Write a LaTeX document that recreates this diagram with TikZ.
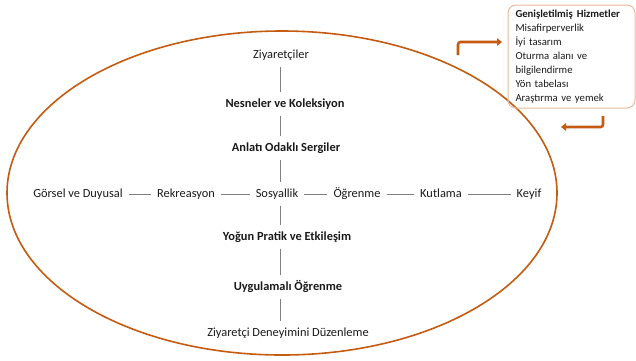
\documentclass[tikz,border=0pt]{standalone}
\usepackage{fontspec}
\setmainfont{Carlito}
\usetikzlibrary{arrows.meta}
\definecolor{rimOrange}{HTML}{C55A11}
\definecolor{boxPeach}{HTML}{E8B99C}
\definecolor{linkGray}{HTML}{7F7F7F}
\definecolor{labelInk}{HTML}{1A1A1A}

\begin{document}
\begin{tikzpicture}[x=1pt,y=-1pt,font=\fontsize{12.4}{14}\selectfont,
  lbl/.style={text=labelInk,inner sep=2pt,text height=9pt,text depth=3pt},
  key/.style={lbl,font=\fontsize{12.4}{14}\selectfont\bfseries},
  link/.style={draw=linkGray,line width=0.6pt,shorten >=4pt,shorten <=4pt},
  elbow/.style={draw=rimOrange,line width=2.6pt,rounded corners=2.5pt,
                -{Triangle[length=5pt,width=7.5pt]}}]
  \useasboundingbox (0,0) rectangle (636,360);
  \draw[rimOrange,line width=1.6pt] (282,193) ellipse [x radius=275, y radius=162];

  % vertical axis
  \node[lbl] (zi) at (281,55)  {Ziyaretçiler};
  \node[key] (ne) at (285,104) {Nesneler ve Koleksiyon};
  \node[key] (an) at (286,148) {Anlatı Odaklı Sergiler};
  \node[key] (yo) at (287,237) {Yoğun Pratik ve Etkileşim};
  \node[key] (uy) at (288,287) {Uygulamalı Öğrenme};
  \node[lbl] (zd) at (288,333) {Ziyaretçi Deneyimini Düzenleme};

  % horizontal axis
  \node[lbl] (gd)  at (78,194)  {Görsel ve Duyusal};
  \node[lbl] (rk)  at (186,194) {Rekreasyon};
  \node[lbl] (sos) at (277,194) {Sosyallik};
  \node[lbl] (og)  at (357,194) {Öğrenme};
  \node[lbl] (ku)  at (441,194) {Kutlama};
  \node[lbl] (ke)  at (529,194) {Keyif};

  \foreach \a/\b in {zi/ne,ne/an,an/sos,sos/yo,yo/uy,uy/zd}
    \draw[link] (\a.south -| 280,0) -- (\b.north -| 280,0);
  \foreach \a/\b in {gd/rk,rk/sos,sos/og,og/ku,ku/ke}
    \draw[link] (\a) -- (\b);

  % extended services
  \node[draw=boxPeach,line width=1pt,rounded corners=8pt,minimum width=127pt,
        minimum height=103pt,text width=112pt,inner xsep=7pt,align=left,
        text=labelInk,font=\fontsize{10.7}{14}\selectfont] (extras) at (571.5,56.5)
    {\textbf{Genişletilmiş\hspace{4pt}Hizmetler}\\Misafirperverlik\\İyi tasarım\\
     Oturma alanı ve\\bilgilendirme\\Yön tabelası\\Araştırma ve yemek};

  \coordinate (inS)  at (458,55);
  \coordinate (inE)  at (502,42);
  \coordinate (outS) at (603,116);
  \coordinate (outE) at (561,127);
  \draw[elbow] (inS) |- (inE);
  \draw[elbow] (outS) |- (outE);
\end{tikzpicture}
\end{document}
